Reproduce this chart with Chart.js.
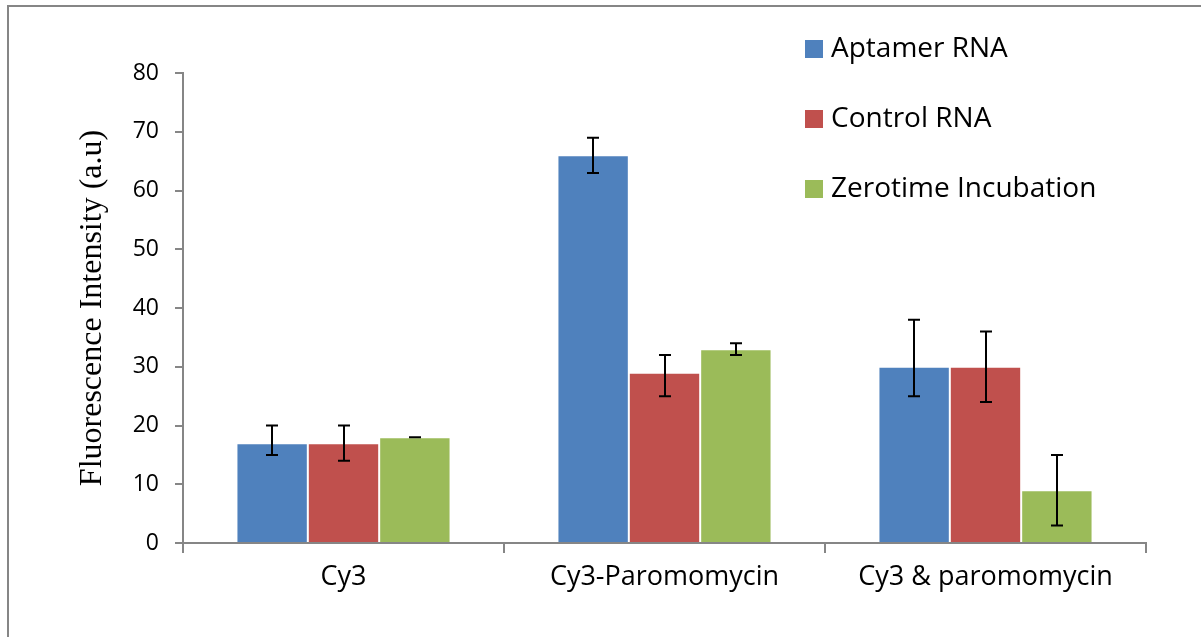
<!DOCTYPE html>
<html>
<head>
<meta charset="utf-8">
<script src="https://cdn.jsdelivr.net/npm/chart.js@4.4.0/dist/chart.umd.min.js"></script>
<style>
  html, body { margin: 0; padding: 0; background: #ffffff; }
  #wrap { width: 1201px; height: 637px; }
</style>
</head>
<body>
<div id="wrap"><canvas id="fluoChart" width="1201" height="637"></canvas></div>
<script>
// data
const categories = ['Cy3', 'Cy3-Paromomycin', 'Cy3 & paromomycin'];
const seriesNames = ['Aptamer RNA', 'Control RNA', 'Zerotime Incubation'];
const aptamerVals = [17, 66, 30];
const controlVals = [17, 29, 30];
const zeroVals = [18, 33, 9];
// error bar ends (low / high) per series
const aptamerLow = [15, 63, 25];
const aptamerHigh = [20, 69, 38];
const controlLow = [14, 25, 24];
const controlHigh = [20, 32, 36];
const zeroLow = [18, 32, 3];
const zeroHigh = [18, 34, 15];
const yTicks = [0, 10, 20, 30, 40, 50, 60, 70, 80];

const barColors = ['#4F81BD', '#C0504D', '#9BBB59'];
const axisGray = '#868686';

// outer frame like the office chart box (only top/left edge shows)
const framePlugin = {
    id: 'frame',
    beforeDraw(chart) {
        const ctx = chart.ctx;
        ctx.save();
        ctx.fillStyle = '#ffffff';
        ctx.fillRect(0, 0, chart.width, chart.height);
        ctx.strokeStyle = axisGray;
        ctx.lineWidth = 2;
        ctx.beginPath();
        ctx.moveTo(8, chart.height + 5);
        ctx.lineTo(8, 6);
        ctx.lineTo(chart.width + 5, 6);
        ctx.stroke();
        ctx.restore();
    }
};

// asymmetric error bars
const errorBarPlugin = {
    id: 'errorBars',
    afterDatasetsDraw(chart) {
        const ctx = chart.ctx;
        const yScale = chart.scales.y;
        const lows = [aptamerLow, controlLow, zeroLow];
        const highs = [aptamerHigh, controlHigh, zeroHigh];
        ctx.save();
        ctx.strokeStyle = '#000000';
        ctx.lineWidth = 2;
        chart.data.datasets.forEach((ds, i) => {
            const meta = chart.getDatasetMeta(i);
            meta.data.forEach((bar, j) => {
                const x = Math.round(bar.x);
                const yLo = yScale.getPixelForValue(lows[i][j]);
                const yHi = yScale.getPixelForValue(highs[i][j]);
                ctx.beginPath();
                ctx.moveTo(x, yLo);
                ctx.lineTo(x, yHi);
                ctx.moveTo(x - 6, yHi);
                ctx.lineTo(x + 6, yHi);
                ctx.moveTo(x - 6, yLo);
                ctx.lineTo(x + 6, yLo);
                ctx.stroke();
            });
        });
        ctx.restore();
    }
};

// legend sits over the top right of the plot
const legendPlugin = {
    id: 'sideLegend',
    afterDraw(chart) {
        const ctx = chart.ctx;
        ctx.save();
        ctx.font = '28px "Open Sans"';
        ctx.textBaseline = 'middle';
        seriesNames.forEach((name, i) => {
            const cy = 49 + i * 70;
            ctx.fillStyle = barColors[i];
            ctx.fillRect(805, cy - 9, 18, 18);
            ctx.fillStyle = '#000000';
            ctx.fillText(name, 831, cy);
        });
        ctx.restore();
    }
};

const ctx = document.getElementById('fluoChart').getContext('2d');
new Chart(ctx, {
    type: 'bar',
    data: {
        labels: categories,
        datasets: [
            { label: seriesNames[0], data: aptamerVals, backgroundColor: barColors[0] },
            { label: seriesNames[1], data: controlVals, backgroundColor: barColors[1] },
            { label: seriesNames[2], data: zeroVals, backgroundColor: barColors[2] }
        ].map(ds => Object.assign(ds, {
            borderColor: 'rgba(255,255,255,0.45)',
            borderWidth: 1,
            categoryPercentage: 0.667,
            barPercentage: 1.0
        }))
    },
    options: {
        responsive: false,
        animation: false,
        layout: { padding: { left: 0, right: 55, top: 73, bottom: 0 } },
        plugins: {
            legend: { display: false },
            tooltip: { enabled: false }
        },
        scales: {
            x: {
                grid: {
                    display: true,
                    drawOnChartArea: false,
                    drawTicks: true,
                    tickLength: 10,
                    color: axisGray,
                    lineWidth: 2,
                    offset: true
                },
                border: { color: axisGray, width: 2 },
                ticks: {
                    color: '#000000',
                    font: { family: 'Open Sans', size: 27 },
                    padding: 8,
                    maxRotation: 0
                },
                afterFit(scale) { scale.height = 94; }
            },
            y: {
                min: 0,
                max: 80,
                afterBuildTicks(scale) { scale.ticks = yTicks.map(v => ({ value: v })); },
                grid: {
                    display: true,
                    drawOnChartArea: false,
                    drawTicks: true,
                    tickLength: 8,
                    color: axisGray,
                    lineWidth: 2
                },
                border: { color: axisGray, width: 2 },
                ticks: {
                    color: '#000000',
                    font: { family: 'Open Sans', size: 23 },
                    padding: 16
                },
                title: {
                    display: true,
                    text: 'Fluorescence Intensity (a.u)',
                    color: '#000000',
                    font: { family: 'Liberation Serif', size: 32 },
                    padding: { top: 73, bottom: 0 }
                },
                afterFit(scale) { scale.width = 183; }
            }
        }
    },
    plugins: [framePlugin, errorBarPlugin, legendPlugin]
});
</script>
</body>
</html>
